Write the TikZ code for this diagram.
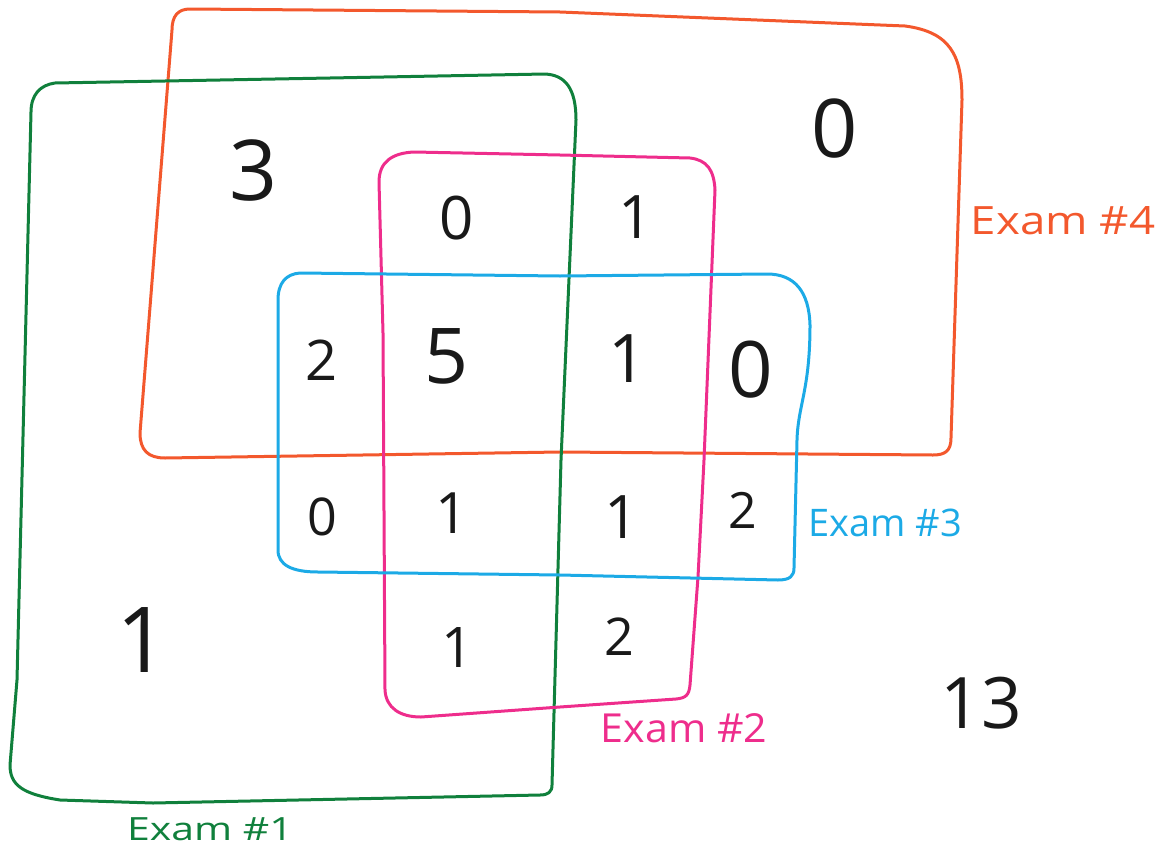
\documentclass[tikz,border=0pt]{standalone}
\usepackage{fontspec}
\setmainfont{Open Sans}
\definecolor{exorange}{RGB}{243,88,45}
\definecolor{exgreen}{RGB}{16,128,60}
\definecolor{expink}{RGB}{238,45,140}
\definecolor{exblue}{RGB}{28,170,230}
\definecolor{ink}{RGB}{25,25,25}
\tikzset{
  marker/.style={line width=3pt, line join=round, line cap=round},
  num/.style={inner sep=0pt, text=ink, anchor=center},
  lab/.style={inner sep=0pt, anchor=center},
}
\newcommand{\fs}[1]{\fontsize{#1}{#1}\selectfont}
\begin{document}
\begin{tikzpicture}[x=1pt,y=-1pt]
\useasboundingbox (0,0) rectangle (1159,846);
% Exam #4 (orange)
\draw[marker, exorange] (190,9) -- (560,12) -- (905,26)
  .. controls (950,32) and (962,55) .. (962,100) -- (951,438)
  .. controls (951,451) and (945,455) .. (933,455) -- (560,452) -- (165,458)
  .. controls (148,458) and (140,450) .. (140,433) -- (172,30)
  .. controls (172,16) and (178,9) .. (190,9) -- cycle;
% Exam #1 (green)
\draw[marker, exgreen] (55,83) -- (330,78) -- (545,74)
  .. controls (565,75) and (576,88) .. (576,120) -- (561,460) -- (552,785)
  .. controls (552,792) and (548,795) .. (540,795) -- (153,803) -- (60,800)
  .. controls (22,794) and (10,785) .. (10,765) -- (17,680) -- (31,112)
  .. controls (31,95) and (40,85) .. (55,83) -- cycle;
% Exam #2 (pink)
\draw[marker, expink] (414,152) -- (560,155) -- (690,158)
  .. controls (707,160) and (714,170) .. (715,190) -- (704,460) -- (698,577) -- (690,685)
  .. controls (689,695) and (686,698) .. (676,699) -- (560,707) -- (421,717)
  .. controls (400,717) and (386,708) .. (385,690) -- (383,333) -- (379,182)
  .. controls (379,162) and (392,153) .. (414,152) -- cycle;
% Exam #3 (blue)
\draw[marker, exblue] (300,273) -- (560,276) -- (767,274)
  .. controls (795,274) and (809,292) .. (810,325)
  .. controls (810,390) and (798,405) .. (797,440) -- (794,568)
  .. controls (794,576) and (790,580) .. (778,580) -- (560,575) -- (318,572)
  .. controls (292,572) and (278,565) .. (278,550) -- (278,300)
  .. controls (278,283) and (286,274) .. (300,273) -- cycle;
% region counts
\node[num] (n4only) at (254,170) {\fs{84}3};
\node[num] (nfour) at (835,129) {\fs{81}0};
\node[num] (n124) at (457,218) {\fs{60}0};
\node[num] (n24) at (636,217) {\fs{60}1};
\node[num] (n134) at (322,360) {\fs{56}2};
\node[num] (n1234) at (447,356) {\fs{77}5};
\node[num] (n234) at (628,359) {\fs{67}1};
\node[num] (n34) at (751,370) {\fs{78}0};
\node[num] (n13) at (322,517) {\fs{52}0};
\node[num] (n123) at (452,513) {\fs{57}1};
\node[num] (n23) at (622,517) {\fs{60}1};
\node[num] (n3) at (743,510) {\fs{50}2};
\node[num] (n1) at (143,640) {\fs{91}1};
\node[num] (n12) at (458,648) {\fs{56}1};
\node[num] (n2) at (619,637) {\fs{52}2};
\node[num] (nnone) at (981,703) {\fs{71}13};
% labels
\node[lab, text=exorange] (l4) at (1063,221) {\scalebox{1.17}[1]{\fs{39}Exam \#4}};
\node[lab, text=exblue] (l3) at (885,523) {\scalebox{1.0}[1]{\fs{38}Exam \#3}};
\node[lab, text=expink] (l2) at (684,728) {\scalebox{1.03}[1]{\fs{40}Exam \#2}};
\node[lab, text=exgreen] (l1) at (210,829) {\scalebox{1.28}[1]{\fs{32}Exam \#1}};
\end{tikzpicture}
\end{document}
